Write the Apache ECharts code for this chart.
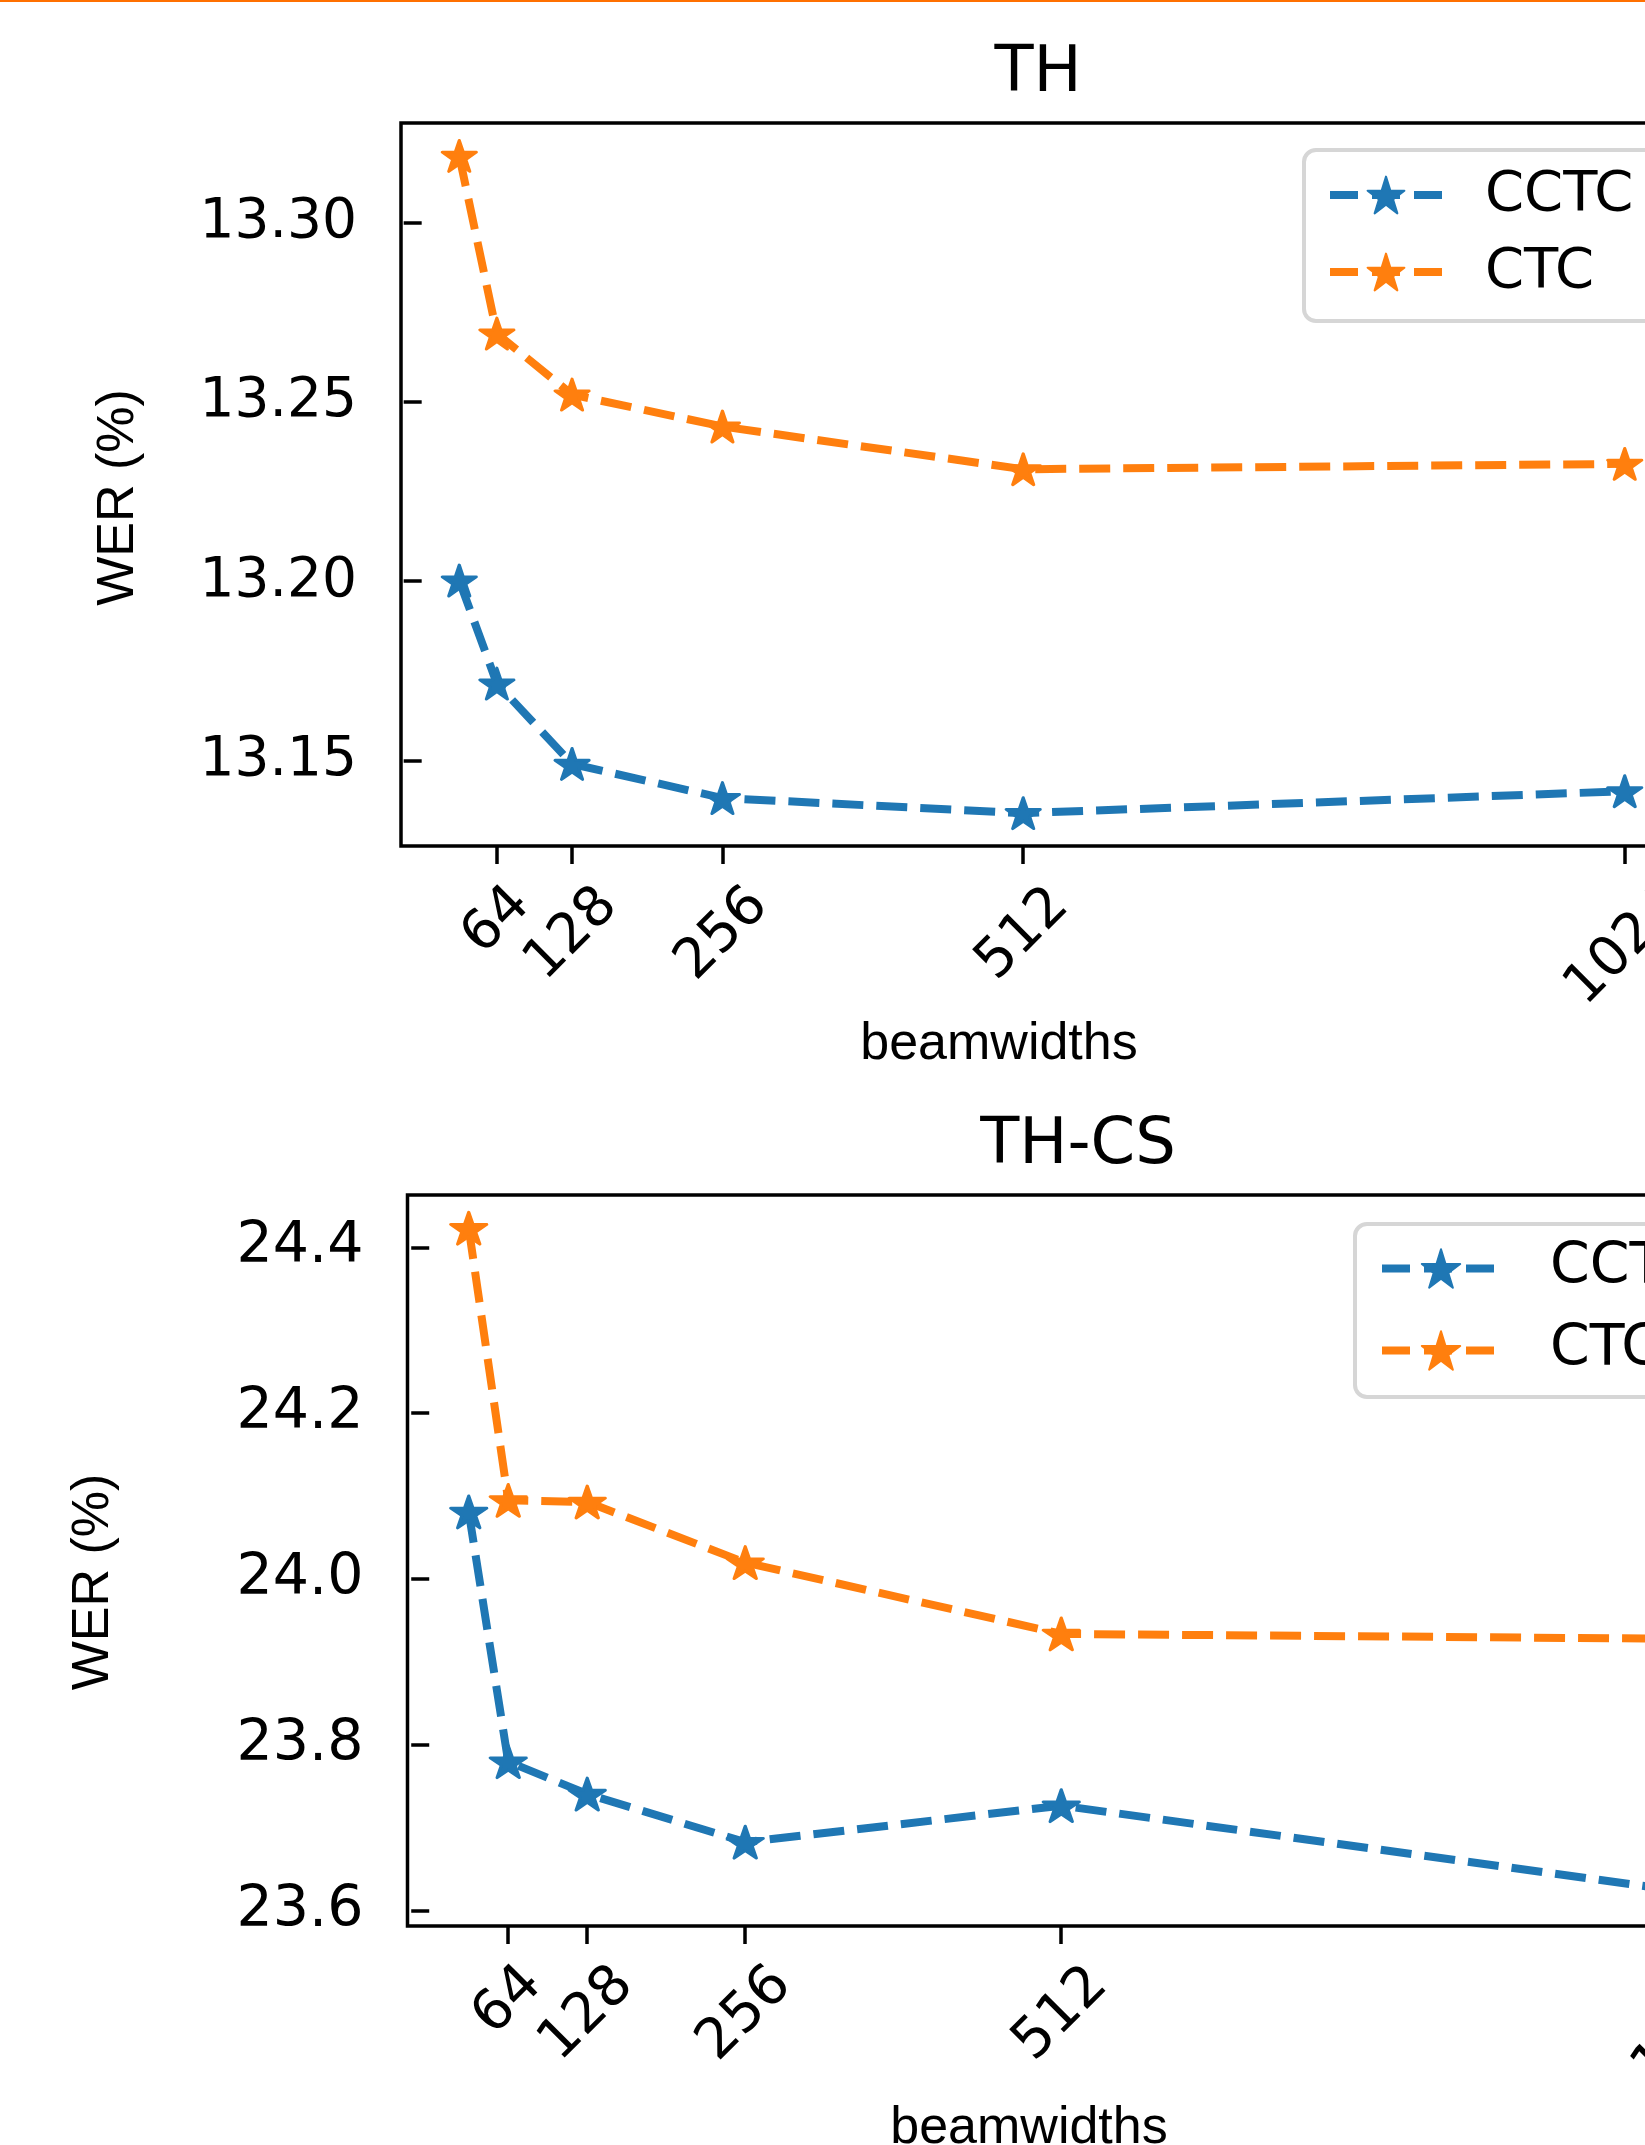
<!DOCTYPE html>
<html>
<head>
<meta charset="utf-8">
<script src="https://cdn.jsdelivr.net/npm/echarts@6/dist/echarts.min.js"></script>
<style>
  html, body { margin: 0; padding: 0; background: #fff; }
  #chart { width: 1645px; height: 2145px; }
</style>
</head>
<body>
<div id="chart"></div>
<script>
// beam widths on the x axis
const beams = [32, 64, 128, 256, 512, 1024]
const xTicks = [64, 128, 256, 512, 1024]

// TH
const thCCTC = [13.2002, 13.1715, 13.1491, 13.1396, 13.1354, 13.1415]
const thCTC = [13.3185, 13.2690, 13.2520, 13.2431, 13.2312, 13.2327]
const thYTicks = [13.15, 13.20, 13.25, 13.30]

// TH-CS
const csCCTC = [24.081, 23.780, 23.741, 23.683, 23.727, 23.622]
const csCTC = [24.423, 24.095, 24.093, 24.020, 23.934, 23.928]
const csYTicks = [23.6, 23.8, 24.0, 24.2, 24.4]

const BLUE = '#1f77b4'
const ORANGE = '#ff7f0e'
const TICK_FONT = 'DejaVu Sans'
const NAME_FONT = 'Liberation Sans'
const STAR = 'path://M0,-1L0.2245,-0.309L0.9511,-0.309L0.3633,0.118L0.5878,0.809L0,0.382L-0.5878,0.809L-0.3633,0.118L-0.9511,-0.309L-0.2245,-0.309Z'

// matplotlib style 5% margins
function padRange(lo, hi) {
  const m = (hi - lo) * 0.05
  return [lo - m, hi + m]
}
const xRange = padRange(Math.min(...beams), Math.max(...beams))
const thRange = padRange(Math.min(...thCCTC, ...thCTC), Math.max(...thCCTC, ...thCTC))
const csRange = padRange(Math.min(...csCCTC, ...csCTC), Math.max(...csCCTC, ...csCTC))

const pairs = vals => beams.map((b, i) => [b, vals[i]])

function xAxisCfg(gridIndex, fontSize, nameGap, nameShift) {
  return {
    type: 'value', gridIndex,
    min: xRange[0], max: xRange[1],
    name: 'beamwidths', nameLocation: 'middle', nameGap,
    nameTextStyle: { fontFamily: NAME_FONT, fontSize: 52, color: '#000', lineHeight: 52, padding: [0, nameShift, 0, 0] },
    axisLine: { show: false, onZero: false },
    splitLine: { show: false },
    axisTick: { show: true, length: 18, customValues: xTicks, lineStyle: { color: '#000', width: 3.5 } },
    axisLabel: {
      customValues: xTicks, rotate: 45, margin: 75,
      align: 'center', verticalAlign: 'middle',
      fontFamily: TICK_FONT, fontSize, color: '#000',
      formatter: v => '{d' + String(v).length + '|' + v + '}',
      rich: {
        d2: { fontFamily: TICK_FONT, fontSize, color: '#000', padding: [0, 0, 0, 0] },
        d3: { fontFamily: TICK_FONT, fontSize, color: '#000', padding: [19, 19, 0, 0] },
        d4: { fontFamily: TICK_FONT, fontSize, color: '#000', padding: [37, 37, 0, 0] }
      }
    }
  }
}

function yAxisCfg(gridIndex, range, ticks, digits, fontSize, nameGap, nameShift) {
  return {
    type: 'value', gridIndex,
    min: range[0], max: range[1],
    name: 'WER (%)', nameLocation: 'middle', nameRotate: 90, nameGap,
    nameTextStyle: { fontFamily: NAME_FONT, fontSize: 52, color: '#000', lineHeight: 52, padding: [0, nameShift, 0, 0] },
    axisLine: { show: false },
    splitLine: { show: false },
    axisTick: { show: true, length: 18, customValues: ticks, lineStyle: { color: '#000', width: 3.5 } },
    axisLabel: {
      customValues: ticks, margin: 44,
      fontFamily: TICK_FONT, fontSize, color: '#000',
      lineHeight: fontSize, padding: [10, 0, 0, 0],
      formatter: v => v.toFixed(digits)
    }
  }
}

function lineSeries(name, color, data, axisIndex, size) {
  return {
    name, type: 'line', data,
    xAxisIndex: axisIndex, yAxisIndex: axisIndex,
    symbol: STAR, symbolSize: size, symbolKeepAspect: false,
    lineStyle: { color, width: 8, type: [31, 13] },
    itemStyle: { color, borderColor: color, borderWidth: 3, borderJoin: 'round' },
    emphasis: { disabled: true }
  }
}

function legendCfg(left, top, padding, itemWidth, itemHeight, itemGap, textPad, fontSize) {
  return {
    data: ['CCTC', 'CTC'], orient: 'vertical', align: 'left',
    left, top, padding, itemWidth, itemHeight, itemGap,
    backgroundColor: 'rgba(255,255,255,0.8)',
    borderColor: '#d6d6d6', borderWidth: 4, borderRadius: 12,
    lineStyle: { width: 8, type: [28, 14] },
    textStyle: { fontFamily: TICK_FONT, fontSize, color: '#000', lineHeight: itemHeight, padding: [0, 0, 0, textPad] },
    selectedMode: false
  }
}

const chart = echarts.init(document.getElementById('chart'), null, { renderer: 'canvas' })
chart.setOption({
  animation: false,
  backgroundColor: '#fff',
  title: [
    { text: 'TH', left: 1038, top: 42, textAlign: 'center', padding: 0,
      textStyle: { fontFamily: TICK_FONT, fontSize: 64, fontWeight: 'normal', color: '#000', lineHeight: 64 } },
    { text: 'TH-CS', left: 1078, top: 1114, textAlign: 'center', padding: 0,
      textStyle: { fontFamily: TICK_FONT, fontSize: 64, fontWeight: 'normal', color: '#000', lineHeight: 64 } }
  ],
  grid: [
    { left: 401, top: 123, width: 1282, height: 723, show: true, borderColor: '#000', borderWidth: 3.5,
      backgroundColor: 'transparent', containLabel: false, outerBoundsMode: 'none' },
    { left: 407.5, top: 1195, width: 1347, height: 731, show: true, borderColor: '#000', borderWidth: 3.5,
      backgroundColor: 'transparent', containLabel: false, outerBoundsMode: 'none' }
  ],
  xAxis: [
    xAxisCfg(0, 55, 165, 86),
    xAxisCfg(1, 56, 177, 104)
  ],
  yAxis: [
    yAxisCfg(0, thRange, thYTicks, 2, 55, 256, 26),
    yAxisCfg(1, csRange, csYTicks, 1, 57, 288, 43)
  ],
  legend: [
    legendCfg(1304, 150, [17, 24, 21, 22], 112, 46, 21, 38, 56),
    legendCfg(1355, 1224, [16, 24, 18, 23], 118, 48, 25, 45, 57)
  ],
  graphic: [
    { type: 'rect', left: 0, top: 0, shape: { width: 1645, height: 2 }, style: { fill: '#ff7000' } }
  ],
  series: [
    lineSeries('CCTC', BLUE, pairs(thCCTC), 0, [34, 31]),
    lineSeries('CTC', ORANGE, pairs(thCTC), 0, [34, 31]),
    lineSeries('CCTC', BLUE, pairs(csCCTC), 1, [36, 32]),
    lineSeries('CTC', ORANGE, pairs(csCTC), 1, [36, 32])
  ]
})
</script>
</body>
</html>
